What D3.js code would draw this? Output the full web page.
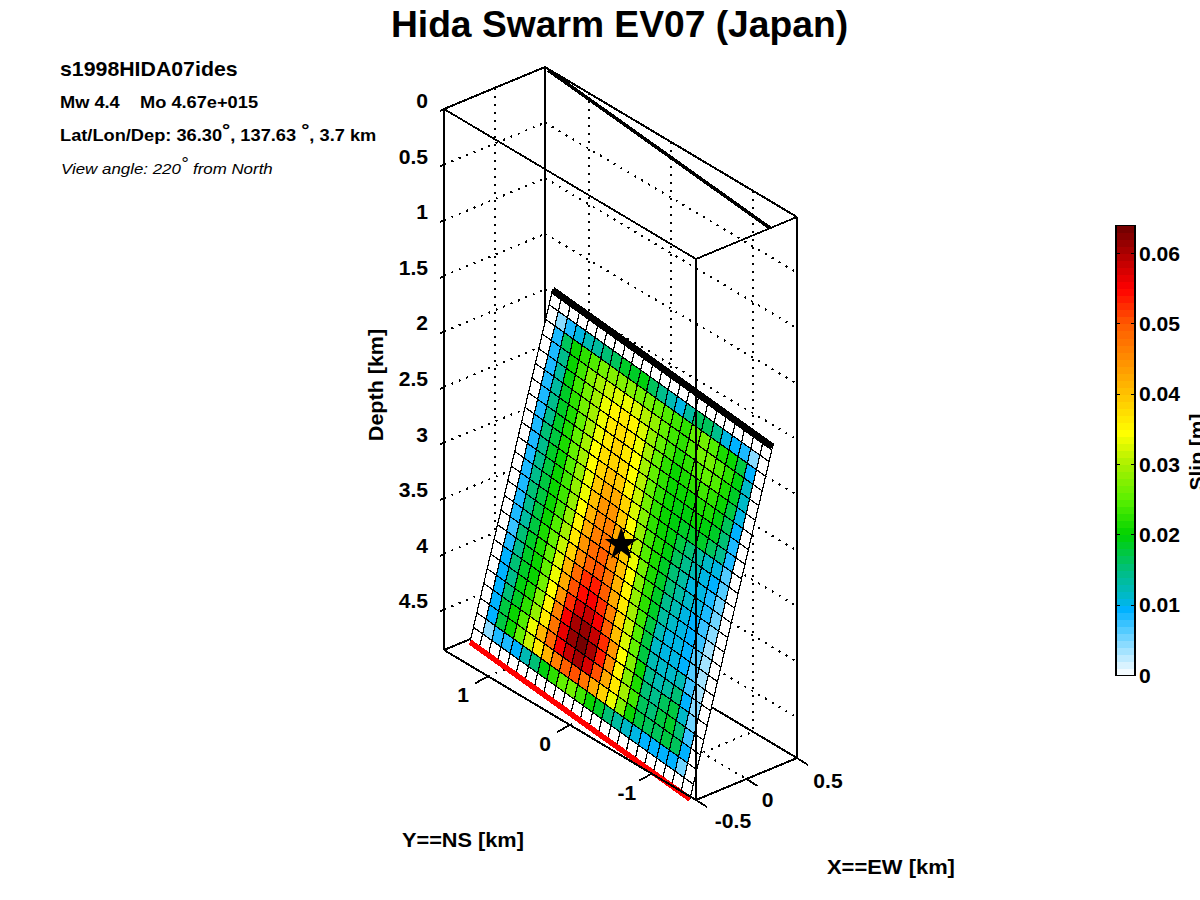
<!DOCTYPE html>
<html><head><meta charset="utf-8">
<script src="https://cdn.jsdelivr.net/npm/d3@7/dist/d3.min.js"></script>
<style>html,body{margin:0;background:#fff}svg{display:block}text{font-family:"Liberation Sans",Arial,sans-serif;fill:#000}</style>
</head><body><svg id="c" width="1200" height="900"></svg>
<script>
const titleText="Hida Swarm EV07 (Japan)";
const xTicks=[-0.5,0,0.5];
const yTicks=[1,0,-1];
const zTicks=[0,0.5,1,1.5,2,2.5,3,3.5,4,4.5];
const cbTicks=[0,0.01,0.02,0.03,0.04,0.05,0.06];
const xRange=[-0.5,0.5], yRange=[1.54,-1.54], zRange=[0,4.865];
const faultTL=[0.45,1.386,1.919], faultTR=[0.195,-1.617,1.919], faultBL=[-0.27,1.506,4.865], faultBR=[-0.525,-1.497,4.865];
const traceStart=[0.488,1.489,0], traceEnd=[0.235,-1.537,0];
const hypocentre=[-0.0375,-0.0555,3.392];
const slipMax=0.064;
const cmapValues=[0,0.001,0.005,0.0095,0.0115,0.015,0.02,0.025,0.03,0.0345,0.04,0.05,0.055,0.064];
const cmapColors=["#ffffff","#e6f7ff","#7dd7ff","#00b2ff","#00b9c8","#00be82","#00d200","#5af000","#aaf000","#ffff00","#ffc300","#ff5a00","#ff0000","#6e0000"];
// slip in mm, one row per down-dip patch, one column per along-strike patch
const slipMm=[
[0,0,0,0,0,0,0,0,0,0,0,0,0,0,0,0,0,0,0,0,0,0,0,0],
[0,4,8,10,12,13,15,16,18,18,19,16,14,12,10,13,16,16,14,10,9,8,4,0],
[0,8,16,20,22,24,26,27,27,27,26,26,25,24,23,22,25,26,24,21,20,17,9,0],
[0,8,14,20,23,27,29,31,32,33,32,30,28,25,23,22,24,26,26,24,22,19,11,0],
[0,8,13,19,23,26,29,33,35,36,35,32,28,25,23,21,22,24,25,24,21,18,11,0],
[0,8,13,18,22,26,29,33,36,37,36,33,29,25,22,20,21,22,23,22,20,17,10,0],
[0,8,14,18,21,25,29,33,36,38,36,34,29,25,22,20,20,20,21,21,19,16,9,0],
[0,8,14,18,21,25,29,34,37,38,37,34,30,25,22,20,19,19,20,19,18,15,8,0],
[0,8,15,17,21,25,29,34,38,40,39,35,31,26,22,20,19,18,18,18,16,14,8,0],
[0,8,14,18,20,24,28,33,39,42,42,38,32,27,22,20,19,17,15,13,11,10,6,0],
[0,8,14,17,20,23,28,33,40,44,44,39,34,28,23,21,19,16,14,12,10,9,6,0],
[0,8,14,17,20,23,28,34,41,45,46,42,36,30,24,21,18,15,13,10,10,8,5,0],
[0,8,15,17,20,23,28,35,42,46,47,44,39,33,26,21,18,15,13,11,10,8,5,0],
[0,8,14,17,20,24,29,36,44,48,49,45,40,34,27,22,18,14,12,10,9,7,4,0],
[0,8,13,17,21,25,31,38,45,49,50,47,41,35,28,22,18,13,11,10,9,7,3,0],
[0,7,15,18,21,25,32,41,48,52,53,49,43,36,29,23,17,12,10,10,9,6,3,0],
[0,8,14,18,20,25,33,43,50,54,55,52,46,38,31,24,17,11,10,10,9,6,3,0],
[0,9,15,18,20,26,34,44,52,57,58,55,49,40,32,25,17,12,11,11,12,7,3,0],
[0,9,14,19,21,27,35,46,55,60,61,58,52,44,34,27,20,14,12,13,15,9,4,0],
[0,9,15,18,22,28,36,47,56,61,64,60,53,45,35,27,21,15,14,16,17,11,5,0],
[0,9,17,20,24,33,41,48,55,59,60,57,50,42,36,29,23,16,15,17,18,15,7,0],
[0,9,17,20,25,31,36,41,46,49,50,47,43,38,33,27,20,17,16,16,17,16,9,0],
[0,4,8,8,9,12,15,19,22,25,26,23,20,18,15,13,11,10,9,9,9,9,5,0],
[0,0,0,0,0,0,0,0,0,0,0,0,0,0,0,0,0,0,0,0,0,0,0,0]
];

const svg=d3.select("#c");
const xPx=d3.scaleLinear().domain(xRange).range([0,101]);
const xPy=d3.scaleLinear().domain(xRange).range([0,-42]);
const yPx=d3.scaleLinear().domain(yRange).range([0,252]);
const yPy=d3.scaleLinear().domain(yRange).range([0,150]);
const zPy=d3.scaleLinear().domain(zRange).range([0,541]);
const P=(x,y,z)=>[444+xPx(x)+yPx(y),109+xPy(x)+yPy(y)+zPy(z)];
const xLo=xRange[0],xHi=xRange[1],yLo=yRange[1],yHi=yRange[0],zTop=zRange[0],zBot=zRange[1];
const line=(g,a,b,w,col,dash)=>{const p=P(...a),q=P(...b);const l=g.append("line").attr("x1",p[0]).attr("y1",p[1]).attr("x2",q[0]).attr("y2",q[1]).attr("stroke",col||"#000").attr("stroke-width",w);if(dash)l.attr("stroke-dasharray",dash);return l;};
const gfx=svg.append("g").attr("shape-rendering","crispEdges");

// dotted grid on the back walls and floor
const grid=gfx.append("g");
const D="2 6";
zTicks.forEach(z=>{line(grid,[xLo,yHi,z],[xHi,yHi,z],2,"#000",D);line(grid,[xHi,yHi,z],[xHi,yLo,z],2,"#000",D);});
xTicks.forEach(x=>{line(grid,[x,yHi,zTop],[x,yHi,zBot],2,"#000",D);line(grid,[x,yHi,zBot],[x,yLo,zBot],2,"#000",D);});
yTicks.forEach(y=>{line(grid,[xHi,y,zTop],[xHi,y,zBot],2,"#000",D);line(grid,[xLo,y,zBot],[xHi,y,zBot],2,"#000",D);});

// back box edges
const back=gfx.append("g");
line(back,[xHi,yHi,zTop],[xHi,yHi,zBot],2.4);
line(back,[xLo,yHi,zBot],[xHi,yHi,zBot],2);
line(back,[xHi,yHi,zBot],[xHi,yLo,zBot],2);
line(back,[xLo,yHi,zTop],[xHi,yHi,zTop],2);
line(back,[xHi,yHi,zTop],[xHi,yLo,zTop],2);
line(back,[xHi,yLo,zTop],[xHi,yLo,zBot],2);
line(back,traceStart,traceEnd,3.5);

// colour map
const colorOf=d3.scaleLinear().domain(cmapValues).range(cmapColors).interpolate(d3.interpolateRgb).clamp(true);
const nLevels=64;
const level=v=>Math.min(nLevels-1,Math.floor(v/slipMax*nLevels));
const levelColor=i=>colorOf((i+0.5)/nLevels*slipMax);

// fault patches
const nRows=slipMm.length,nCols=slipMm[0].length;
const mix=(a,b,t)=>a.map((v,i)=>v+(b[i]-v)*t);
const F=(c,r)=>{const u=c/nCols,v=r/nRows;return mix(mix(faultTL,faultTR,u),mix(faultBL,faultBR,u),v);};
const patches=[];
slipMm.forEach((row,r)=>row.forEach((s,c)=>patches.push({r,c,s})));
gfx.append("g").selectAll("path").data(patches).join("path")
 .attr("d",d=>{const a=P(...F(d.c,d.r)),b=P(...F(d.c+1,d.r)),e=P(...F(d.c+1,d.r+1)),f=P(...F(d.c,d.r+1));return "M"+a+"L"+b+"L"+e+"L"+f+"Z";})
 .attr("fill",d=>d.s===0?"#fff":levelColor(level(d.s/1000)))
 .attr("stroke","#000").attr("stroke-width",1.2);
const edges=gfx.append("g");
line(edges,faultTL,faultTR,7);
line(edges,faultBL,faultBR,5.5,"#ff0000");

// front box edges and ticks
const front=gfx.append("g");
line(front,[xLo,yHi,zTop],[xLo,yHi,zBot],2.4);
line(front,[xLo,yLo,zTop],[xLo,yLo,zBot],2.4);
line(front,[xLo,yHi,zTop],[xLo,yLo,zTop],1.8);
line(front,[xLo,yLo,zTop],[xHi,yLo,zTop],1.8);
line(front,[xLo,yHi,zBot],[xLo,yLo,zBot],2);
line(front,[xLo,yLo,zBot],[xHi,yLo,zBot],2);
const seg=(a,dx,dy)=>{const p=P(...a);front.append("line").attr("x1",p[0]).attr("y1",p[1]).attr("x2",p[0]+dx).attr("y2",p[1]+dy).attr("stroke","#000").attr("stroke-width",1.8);};
zTicks.forEach(z=>seg([xLo,yHi,z],-4,2));
yTicks.forEach(y=>seg([xLo,y,zBot],-13,7));
xTicks.forEach(x=>seg([x,yLo,zBot],11,7));

// hypocentre star
const h=P(...hypocentre);
svg.append("path").attr("d",d3.symbol(d3.symbolStar,340)()).attr("transform",`translate(${h[0]},${h[1]})`).attr("fill","#000");

// text
const T=(x,y,s,size,o={})=>svg.append("text").attr("x",0).attr("y",0).attr("font-size",size).attr("font-weight",o.w||"bold").attr("font-style",o.i?"italic":null).attr("text-anchor",o.a||"start").attr("transform",`translate(${x} ${y})${o.r?` rotate(${o.r})`:""} scale(${o.sx||1} 1)`).style("white-space","pre").text(s);
T(619.5,37,titleText,36.5,{a:"middle",sx:1.02});
T(60,76,"s1998HIDA07ides",20,{sx:1.065});
T(60,108,"Mw 4.4    Mo 4.67e+015",16,{sx:1.14});
const lat=T(60,141,"",16,{sx:1.14});
lat.append("tspan").text("Lat/Lon/Dep: 36.30");
lat.append("tspan").attr("dy",-5).attr("font-size",18).text("°");
lat.append("tspan").attr("dy",5).text(", 137.63 ");
lat.append("tspan").attr("dy",-5).attr("font-size",18).text("°");
lat.append("tspan").attr("dy",5).text(", 3.7 km");
const va=T(61,174,"",15.5,{w:"normal",i:true,sx:1.09});
va.append("tspan").text("View angle: 220");
va.append("tspan").attr("dy",-5).attr("font-size",17).text("°");
va.append("tspan").attr("dy",5).text(" from North");

const tickFont=20,tickSx=1.055;
zTicks.forEach(z=>{const p=P(xLo,yHi,z);T(p[0]-16,p[1]-1,String(z),tickFont,{a:"end",sx:tickSx});});
yTicks.forEach(y=>{const p=P(xLo,y,zBot);T(p[0]-25,p[1]+26,String(y),tickFont,{a:"middle",sx:tickSx});});
const xLab={"-0.5":[37,28],"0":[21,28],"0.5":[31,30]};
xTicks.forEach(x=>{const p=P(x,yLo,zBot),o=xLab[String(x)];T(p[0]+o[0],p[1]+o[1],String(x),tickFont,{a:"middle",sx:tickSx});});
T(383,385,"Depth [km]",20.5,{a:"middle",r:-90,sx:1.05});
T(402,847,"Y==NS [km]",20.5,{sx:1.06});
T(827,874,"X==EW [km]",20.5,{sx:1.07});

// colour bar
const cbX=1116,cbW=19;
const cbY=d3.scaleLinear().domain([0,slipMax]).range([675.5,225.5]);
const cb=svg.append("g").attr("shape-rendering","crispEdges");
cb.selectAll("rect").data(d3.range(nLevels)).join("rect")
 .attr("x",cbX).attr("width",cbW)
 .attr("y",i=>cbY((i+1)/nLevels*slipMax))
 .attr("height",i=>cbY(i/nLevels*slipMax)-cbY((i+1)/nLevels*slipMax)+0.5)
 .attr("fill",levelColor);
cb.append("rect").attr("x",cbX).attr("y",cbY(slipMax)).attr("width",cbW).attr("height",cbY(0)-cbY(slipMax)).attr("fill","none").attr("stroke","#000").attr("stroke-width",1.2);
cbTicks.forEach(t=>{[[cbX,cbX+4],[cbX+cbW-4,cbX+cbW]].forEach(e=>cb.append("line").attr("x1",e[0]).attr("x2",e[1]).attr("y1",cbY(t)).attr("y2",cbY(t)).attr("stroke","#000").attr("stroke-width",1));
 T(1139,cbY(t)+7,String(t),tickFont,{sx:tickSx});});
T(1204,452,"Slip [m]",20,{a:"middle",r:-90,sx:1.05});
</script></body></html>
